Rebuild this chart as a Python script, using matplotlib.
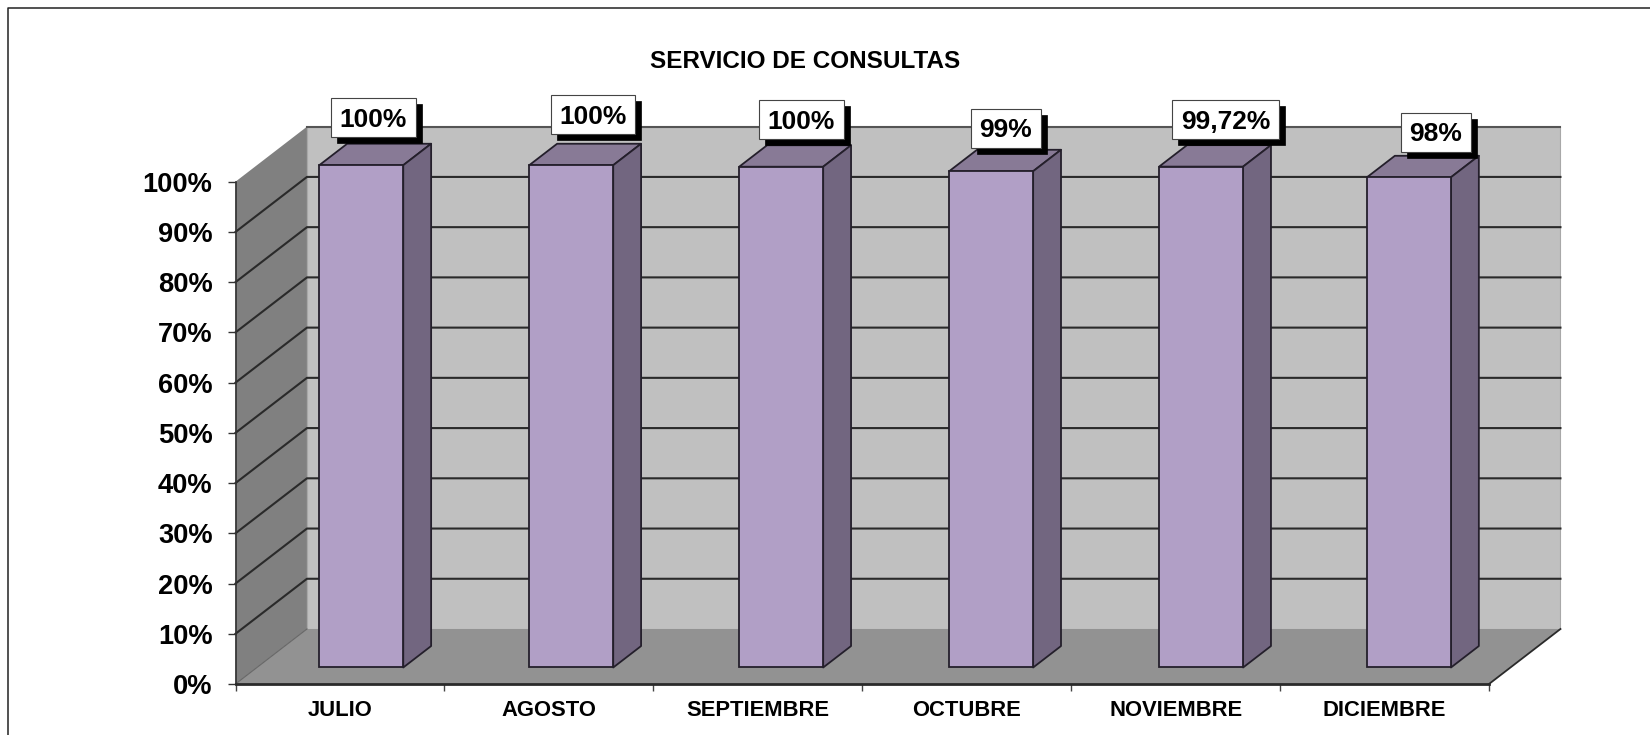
import matplotlib
matplotlib.use('Agg')
import matplotlib.pyplot as plt
from matplotlib.lines import Line2D
from matplotlib.patches import Polygon, Rectangle
from matplotlib.transforms import IdentityTransform

plt.rcParams['font.family'] = ['Liberation Sans', 'DejaVu Sans']
plt.rcParams['font.weight'] = 'bold'

# Data
months = ['JULIO', 'AGOSTO', 'SEPTIEMBRE', 'OCTUBRE', 'NOVIEMBRE', 'DICIEMBRE']
values = [100, 100, 99.7, 98.8, 99.72, 97.6]
value_labels = ['100%', '100%', '100%', '99%', '99,72%', '98%']
y_ticks = [0, 10, 20, 30, 40, 50, 60, 70, 80, 90, 100]

# Layout, in axis units: bars are not quite evenly spaced
# and the label boxes were placed by hand in the original
bar_left = [0.401, 1.406, 2.411, 3.416, 4.421, 5.416]
label_x = [0.66, 1.711, 2.709, 3.687, 4.738, 5.745]
label_y = [112.7, 113.3, 112.3, 110.6, 112.3, 109.8]

# Oblique depth of the fake 3D box
DX = 0.342
DY = 10.95
BAR_W = 0.402
BAR_START = 0.3
BAR_DEPTH = 0.39

LINE = '#2a2a2a'
W, H = 1650, 735

fig = plt.figure(figsize=(W / 100, H / 100), dpi=100, facecolor='white')
ax = fig.add_axes([235.5 / W, (H - 684) / H, 1253.5 / W, 502.3 / H])
ax.set_xlim(0, 6)
ax.set_ylim(0, 100)
ax.patch.set_visible(False)


def poly(points, color, edge='none', lw=0, z=1):
    ax.add_patch(Polygon(points, closed=True, facecolor=color, edgecolor=edge,
                         linewidth=lw, clip_on=False, zorder=z, joinstyle='round'))


# Walls and floor
poly([(DX, DY), (6 + DX, DY), (6 + DX, 100 + DY), (DX, 100 + DY)], '#c0c0c0', '#a8a8a8', 0.8)
poly([(0, 0), (DX, DY), (DX, 100 + DY), (0, 100)], '#808080', z=1.1)
poly([(0, 0), (6, 0), (6 + DX, DY), (DX, DY)], '#929292', z=1.2)

# Gridlines along side wall and back wall, the top one only on the back wall
for t in y_ticks[1:-1]:
    ax.plot([0, DX, 6 + DX], [t, t + DY, t + DY], color=LINE, lw=1.5,
            clip_on=False, zorder=1.5, solid_joinstyle='round')
ax.plot([DX, 6 + DX], [100 + DY, 100 + DY], color='#555555', lw=1.5, clip_on=False, zorder=1.5)
ax.plot([0, DX], [0, DY], color='#666666', lw=0.8, clip_on=False, zorder=1.5)
ax.plot([6, 6 + DX], [0, DY], color=LINE, lw=1.3, clip_on=False, zorder=1.5)

# Bars
edge = '#241f2b'
base = BAR_START * DY
ddx = BAR_DEPTH * DX
ddy = BAR_DEPTH * DY
for left, v in zip(bar_left, values):
    right = left + BAR_W
    top = base + v
    poly([(left, top), (right, top), (right + ddx, top + ddy), (left + ddx, top + ddy)],
         '#887a96', edge, 1.3, z=2)
    poly([(right, base), (right + ddx, base + ddy), (right + ddx, top + ddy), (right, top)],
         '#726680', edge, 1.3, z=2)
ax.bar(bar_left, values, width=BAR_W, bottom=base, align='edge', color='#b19fc6',
       edgecolor=edge, linewidth=1.3, clip_on=False, zorder=2.1)

# Axes, ticks
for s in ['top', 'right']:
    ax.spines[s].set_visible(False)
ax.spines['left'].set_color('#333333')
ax.spines['left'].set_linewidth(1.2)
ax.spines['left'].set_zorder(3)
ax.spines['bottom'].set_color(LINE)
ax.spines['bottom'].set_linewidth(2)
ax.spines['bottom'].set_zorder(3)

ax.set_yticks(y_ticks)
ax.set_yticklabels([f'{t}%' for t in y_ticks], fontsize=19.6, fontweight='bold')
ax.tick_params(axis='y', length=6, width=1, color='#333333', pad=10.5)
ax.set_xticks(range(7))
ax.set_xticklabels([])
ax.set_xticks([i + 0.5 for i in range(6)], months, minor=True, fontsize=15.8, fontweight='bold')
ax.tick_params(axis='x', which='major', length=5, width=1, color='#444444')
ax.tick_params(axis='x', which='minor', length=0, pad=11.5)

fig.text(804.7 / W, 1 - 61 / H, 'SERVICIO DE CONSULTAS', fontsize=17.5, fontweight='bold',
         ha='center', va='center')

# Frame: only the left and top edges fall inside the picture
fig.add_artist(Line2D([8.3 / W, 8.3 / W, 1], [0, 1 - 8 / H, 1 - 8 / H], color='#222222', lw=1.1))

# Value labels, white box with hard black shadow
renderer = fig.canvas.get_renderer()
for x, y, s in zip(label_x, label_y, value_labels):
    txt = ax.text(x, y - 0.4, s, fontsize=19, fontweight='bold', ha='center', va='center',
                  clip_on=False, zorder=6)
    ext = txt.get_window_extent(renderer)
    cx, cy = ax.transData.transform((x, y))
    bw = ext.width + 17
    bh = 39
    ax.add_artist(Rectangle((cx - bw / 2 + 6, cy - bh / 2 - 6), bw, bh, transform=IdentityTransform(),
                            facecolor='black', edgecolor='black', linewidth=0.5, clip_on=False, zorder=4))
    ax.add_artist(Rectangle((cx - bw / 2, cy - bh / 2), bw, bh, transform=IdentityTransform(),
                            facecolor='white', edgecolor='#444444', linewidth=0.8, clip_on=False, zorder=5))

fig.savefig('out.png', dpi=100)
